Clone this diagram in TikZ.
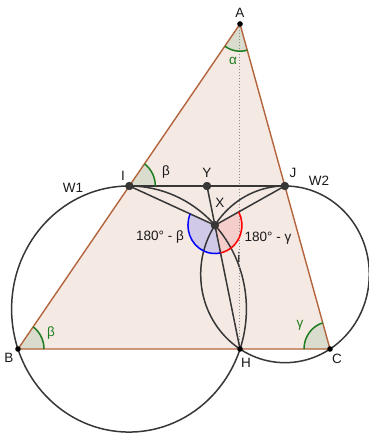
\documentclass[tikz,border=0pt]{standalone}
\usepackage{fontspec}
\setmainfont{Liberation Sans}
\usetikzlibrary{calc}
\definecolor{tri}{RGB}{180,100,60}
\definecolor{trifill}{RGB}{245,233,228}
\definecolor{ggreen}{RGB}{30,125,30}
\definecolor{angfill}{RGB}{218,220,206}
\definecolor{dk}{RGB}{55,55,55}
\definecolor{bluefill}{RGB}{208,202,232}
\definecolor{redfill}{RGB}{245,205,202}
\begin{document}
\begin{tikzpicture}[x=1pt,y=1.048pt,
  lbl/.style={font=\fontsize{13.5}{14}\selectfont, inner sep=0pt, text=black!90},
  glbl/.style={lbl, text=ggreen},
  circ/.style={draw=dk, line width=1.5pt},
  seg/.style={draw=dk, line width=1.5pt},
  triedge/.style={draw=tri, line width=1.4pt},
  garc/.style={draw=ggreen, line width=1.5pt},
  bigpt/.style={fill=dk, draw=black!80, line width=0.5pt},
  smallpt/.style={fill=black}]
\useasboundingbox (0,0) rectangle (369,413.17);
\clip (0,0) rectangle (369,413.17);
% points
\coordinate (A) at (240,390.3);
\coordinate (B) at (18,80.15);
\coordinate (C) at (330,80.15);
\coordinate (H) at (240,80.15);
\coordinate (I) at ($(B)!0.5015!(A)$);
\coordinate (J) at ($(C)!0.5015!(A)$);
\coordinate (O1) at (129,118.3);
\coordinate (O2) at (285,151.4);
\coordinate (X) at (214.94,198.23);
\coordinate (Y) at (intersection of H--X and I--J);
% triangle fill
\fill[trifill] (A)--(B)--(C)--cycle;
% angle fills
\fill[angfill] (B) -- ($(B)+(0:26)$) arc[start angle=0,end angle=54.41,radius=26] -- cycle;
\fill[angfill] (I) -- ($(I)+(0:26)$) arc[start angle=0,end angle=54.41,radius=26] -- cycle;
\fill[angfill] (C) -- ($(C)+(106.18:26)$) arc[start angle=106.18,end angle=180,radius=26] -- cycle;
\fill[angfill] (A) -- ($(A)+(234.41:26)$) arc[start angle=234.41,end angle=286.18,radius=26] -- cycle;
\fill[bluefill] (X) -- ($(X)+(156.36:27)$) arc[start angle=156.36,end angle=281.98,radius=27] -- cycle;
\fill[redfill] (X) -- ($(X)+(-78.02:27)$) arc[start angle=-78.02,end angle=28.18,radius=27] -- cycle;
% circles
\draw[circ] (O1) circle[radius=117.4];
\draw[circ] (O2) circle[radius=84.3];
% dotted altitude
\draw[black!45, dotted, line width=1pt] (A) -- (H);
% segments
\draw[seg] (I) -- (J);
\draw[seg] (I) -- (X) -- (J);
\draw[seg] (Y) -- (H);
% triangle edges
\draw[triedge] (A) -- (B) -- (C) -- cycle;
% angle arcs
\draw[garc] ($(B)+(0:26)$) arc[start angle=0,end angle=54.41,radius=26];
\draw[garc] ($(I)+(0:26)$) arc[start angle=0,end angle=54.41,radius=26];
\draw[garc] ($(C)+(106.18:26)$) arc[start angle=106.18,end angle=180,radius=26];
\draw[garc] ($(A)+(234.41:26)$) arc[start angle=234.41,end angle=286.18,radius=26];
\draw[blue, line width=1.5pt] ($(X)+(156.36:27)$) arc[start angle=156.36,end angle=281.98,radius=27];
\draw[red, line width=1.5pt] ($(X)+(-78.02:27)$) arc[start angle=-78.02,end angle=28.18,radius=27];
% point markers
\fill[smallpt] (A) circle[radius=2.8pt];
\fill[smallpt] (B) circle[radius=2.8pt];
\fill[smallpt] (C) circle[radius=2.8pt];
\fill[smallpt] (H) circle[radius=2.8pt];
\filldraw[bigpt] (I) circle[radius=3.9pt];
\filldraw[bigpt] (J) circle[radius=3.9pt];
\filldraw[bigpt] (Y) circle[radius=3.9pt];
\filldraw[bigpt] (X) circle[radius=3.9pt];
% labels
\node[lbl] (lA) at (240,400.8) {A};
\node[glbl] (la) at (233,355.0) {α};
\node[lbl] (lB) at (9,71.6) {B};
\node[glbl] (lb1) at (51,95.4) {β};
\node[lbl] (lC) at (337,70.6) {C};
\node[glbl] (lg) at (300,103.1) {γ};
\node[lbl] (lH) at (246,66.8) {H};
\node[lbl] (lI) at (123,245.2) {I};
\node[lbl] (lb2) at (166,249.0) {β};
\node[lbl] (lY) at (207,248.1) {Y};
\node[lbl] (lJ) at (293,248.1) {J};
\node[lbl] (lW2) at (319,240.5) {W2};
\node[lbl] (lW1) at (73,233.8) {W1};
\node[lbl] (lX) at (220,219.5) {X};
\node[lbl] (l180b) at (160,187.0) {180° - β};
\node[lbl] (l180g) at (268,186.1) {180° - γ};
\node[lbl] (li) at (239,167.0) {i};
\end{tikzpicture}
\end{document}
